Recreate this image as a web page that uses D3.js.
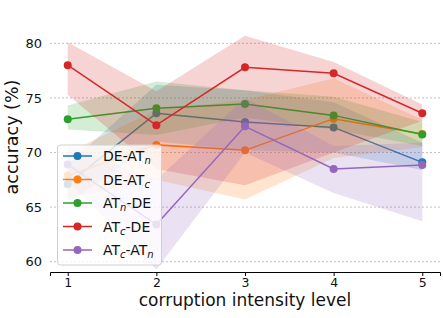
<!DOCTYPE html>
<html>
<head>
<meta charset="utf-8">
<script src="https://cdn.jsdelivr.net/npm/d3@7"></script>
<style>
  body { margin: 0; background: #fff; }
  svg { display: block; font-family: "DejaVu Sans", sans-serif; }
</style>
</head>
<body>
<script>
// corruption levels
const levels = [1, 2, 3, 4, 5];
const yTicks = [60, 65, 70, 75, 80];

// mean accuracy per series
const deAtn  = [67.1, 73.6, 72.8, 72.3, 69.1];
const deAtc  = [67.9, 70.7, 70.2, 73.1, 71.7];
const atnDe  = [73.05, 74.05, 74.45, 73.4, 71.65];
const atcDe  = [78.0, 72.5, 77.8, 77.25, 73.6];
const atcAtn = [68.9, 63.4, 72.4, 68.5, 68.85];

// shaded band lower / upper
const deAtnLo  = [65.3, 71.0, 70.2, 70.0, 68.4];
const deAtnHi  = [68.9, 76.2, 75.7, 74.6, 70.9];
const deAtcLo  = [65.8, 67.5, 65.7, 69.5, 70.5];
const deAtcHi  = [70.0, 73.9, 74.8, 76.8, 73.0];
const atnDeLo  = [72.1, 71.6, 73.2, 72.1, 70.6];
const atnDeHi  = [74.3, 76.5, 75.7, 75.1, 72.8];
const atcDeLo  = [75.3, 68.5, 67.0, 70.0, 72.9];
const atcDeHi  = [80.1, 75.6, 80.7, 78.3, 74.4];
const atcAtnLo = [67.4, 59.3, 70.0, 66.3, 63.7];
const atcAtnHi = [70.6, 67.5, 75.0, 70.6, 70.9];

const series = [
  {base: "DE-AT", sub: "n", tail: "", color: "#1f77b4", mean: deAtn, lo: deAtnLo, hi: deAtnHi},
  {base: "DE-AT", sub: "c", tail: "", color: "#ff7f0e", mean: deAtc, lo: deAtcLo, hi: deAtcHi},
  {base: "AT", sub: "n", tail: "-DE", color: "#2ca02c", mean: atnDe, lo: atnDeLo, hi: atnDeHi},
  {base: "AT", sub: "c", tail: "-DE", color: "#d62728", mean: atcDe, lo: atcDeLo, hi: atcDeHi},
  {base: "AT", sub: "c", tail: "-AT", sub2: "n", color: "#9467bd", mean: atcAtn, lo: atcAtnLo, hi: atcAtnHi}
];

const width = 443, height = 318;
const plotLeft = 50, plotRight = 440, plotTop = 10, plotBottom = 272;

const svg = d3.select("body").append("svg")
    .attr("width", width)
    .attr("height", height);

const x = d3.scaleLinear().domain([0.8, 5.2]).range([plotLeft, plotRight]);
const y = d3.scaleLinear().domain([59.06, 83.05]).range([plotBottom, plotTop]);

// grid lines
svg.append("g")
    .selectAll("line")
    .data(yTicks)
    .enter().append("line")
    .attr("x1", plotLeft).attr("x2", plotRight)
    .attr("y1", d => y(d)).attr("y2", d => y(d))
    .attr("stroke", "#b0b0b0")
    .attr("stroke-width", 0.8)
    .attr("stroke-dasharray", "2,2");

// y tick labels (no spine)
svg.append("g")
    .selectAll("text")
    .data(yTicks)
    .enter().append("text")
    .attr("x", 42)
    .attr("y", d => y(d))
    .attr("dy", "0.36em")
    .attr("text-anchor", "end")
    .attr("font-size", "13px")
    .attr("fill", "#111")
    .text(d => d);

// bands + lines, one series at a time
const area = d3.area()
    .x((d, i) => x(levels[i]))
    .y0(d => y(d[0]))
    .y1(d => y(d[1]));
const line = d3.line()
    .x((d, i) => x(levels[i]))
    .y(d => y(d));

series.forEach(s => {
    const band = s.lo.map((v, i) => [v, s.hi[i]]);
    svg.append("path")
        .datum(band)
        .attr("d", area)
        .attr("fill", s.color)
        .attr("fill-opacity", 0.2);
    svg.append("path")
        .datum(s.mean)
        .attr("d", line)
        .attr("fill", "none")
        .attr("stroke", s.color)
        .attr("stroke-width", 1.5);
    svg.append("g")
        .selectAll("circle")
        .data(s.mean)
        .enter().append("circle")
        .attr("cx", (d, i) => x(levels[i]))
        .attr("cy", d => y(d))
        .attr("r", 4)
        .attr("fill", s.color);
});

// x axis
const xAxis = svg.append("g")
    .attr("transform", "translate(0," + plotBottom + ")")
    .call(d3.axisBottom(x).tickValues(levels).tickSize(4).tickPadding(2).tickFormat(d3.format("d")));
xAxis.select(".domain").attr("stroke", "#000").attr("stroke-width", 1);
xAxis.selectAll("text").attr("font-size", "12.5px").attr("font-family", "DejaVu Sans").attr("fill", "#111");

svg.append("text")
    .attr("x", 245)
    .attr("y", 306)
    .attr("text-anchor", "middle")
    .attr("font-size", "17px")
    .attr("fill", "#111")
    .text("corruption intensity level");

svg.append("text")
    .attr("transform", "translate(18,137) rotate(-90)")
    .attr("text-anchor", "middle")
    .attr("font-size", "17.5px")
    .attr("fill", "#111")
    .text("accuracy (%)");

// legend
const lg = svg.append("g");
lg.append("rect")
    .attr("x", 57.5).attr("y", 145)
    .attr("width", 104).attr("height", 120)
    .attr("rx", 3)
    .attr("fill", "#fff")
    .attr("fill-opacity", 0.8)
    .attr("stroke", "#d0d0d0")
    .attr("stroke-width", 1);

series.forEach((s, i) => {
    const cy = 156 + i * 23.5;
    lg.append("line")
        .attr("x1", 63).attr("x2", 92)
        .attr("y1", cy).attr("y2", cy)
        .attr("stroke", s.color).attr("stroke-width", 1.5);
    lg.append("circle")
        .attr("cx", 77.5).attr("cy", cy).attr("r", 4)
        .attr("fill", s.color);
    const t = lg.append("text")
        .attr("x", 103).attr("y", cy + 5)
        .attr("font-size", "14px")
        .attr("fill", "#111");
    t.append("tspan").text(s.base);
    t.append("tspan").attr("dy", 3).attr("font-size", "10px").attr("font-style", "italic").text(s.sub);
    if (s.tail) t.append("tspan").attr("dy", -3).text(s.tail);
    if (s.sub2) t.append("tspan").attr("dy", 3).attr("font-size", "10px").attr("font-style", "italic").text(s.sub2);
});
</script>
</body>
</html>
